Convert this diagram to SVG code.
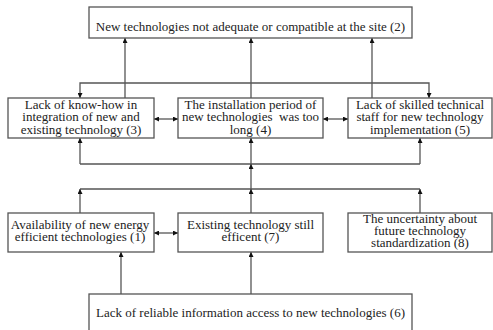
<svg xmlns="http://www.w3.org/2000/svg" width="493" height="330" viewBox="0 0 493 330">
<defs>
<marker id="ah" viewBox="0 0 10 10" refX="10" refY="5" markerWidth="5" markerHeight="5" markerUnits="userSpaceOnUse" orient="auto-start-reverse">
<path d="M0,0 L10,5 L0,10 z" fill="#111"/>
</marker>
<style>
.box{fill:#fff;stroke:#555;stroke-width:1.3}
.t{font-family:"Liberation Serif","Times New Roman",serif;font-size:13px;fill:#222;text-anchor:middle}
.c{fill:none;stroke:#555;stroke-width:1.3}
.a{marker-end:url(#ah)}
.b{marker-start:url(#ah);marker-end:url(#ah)}
</style>
</defs>
<rect width="493" height="330" fill="#fff"/>
<g id="connectors">
<line class="c a" x1="125" y1="98" x2="125" y2="38"/>
<line class="c a" x1="251" y1="98" x2="251" y2="38"/>
<line class="c a" x1="372" y1="98" x2="372" y2="38"/>
<polyline class="c b" points="80,98 80,83 429,83 429,98"/>
<line class="c b" x1="154" y1="119" x2="178" y2="119"/>
<line class="c b" x1="323" y1="119" x2="348" y2="119"/>
<line class="c" x1="80" y1="164" x2="420" y2="164"/>
<line class="c a" x1="80" y1="164" x2="80" y2="138"/>
<line class="c a" x1="251" y1="164" x2="251" y2="138"/>
<line class="c a" x1="420" y1="164" x2="420" y2="138"/>
<line class="c a" x1="251" y1="189" x2="251" y2="164"/>
<line class="c" x1="80" y1="189" x2="420" y2="189"/>
<line class="c a" x1="80" y1="213" x2="80" y2="189"/>
<line class="c a" x1="251" y1="213" x2="251" y2="189"/>
<line class="c a" x1="420" y1="213" x2="420" y2="189"/>
<line class="c b" x1="154" y1="233" x2="178" y2="233"/>
<line class="c a" x1="121" y1="294" x2="121" y2="252"/>
<line class="c a" x1="251" y1="294" x2="251" y2="252"/>
</g>
<g id="n2">
<rect class="box" x="89" y="7" width="323" height="31"/>
<text class="t" x="250.5" y="31">New technologies not adequate or compatible at the site (2)</text>
</g>
<g id="n3">
<rect class="box" x="8" y="98" width="146" height="40"/>
<text class="t" x="81" y="109">Lack of know-how in</text>
<text class="t" x="81" y="121">integration of new and</text>
<text class="t" x="81" y="134">existing technology (3)</text>
</g>
<g id="n4">
<rect class="box" x="178" y="98" width="145" height="40"/>
<text class="t" x="250.5" y="109">The installation period of</text>
<text class="t" x="250.5" y="121" xml:space="preserve">new technologies  was too</text>
<text class="t" x="250.5" y="134">long (4)</text>
</g>
<g id="n5">
<rect class="box" x="348" y="98" width="144" height="40"/>
<text class="t" x="420" y="109">Lack of skilled technical</text>
<text class="t" x="420" y="121">staff for new technology</text>
<text class="t" x="420" y="134">implementation (5)</text>
</g>
<g id="n1">
<rect class="box" x="8" y="213" width="146" height="39"/>
<text class="t" x="80" y="229">Availability of new energy</text>
<text class="t" x="80" y="241">efficient technologies (1)</text>
</g>
<g id="n7">
<rect class="box" x="178" y="213" width="145" height="39"/>
<text class="t" x="250.5" y="229">Existing technology still</text>
<text class="t" x="250.5" y="241">efficent (7)</text>
</g>
<g id="n8">
<rect class="box" x="348" y="213" width="144" height="39"/>
<text class="t" x="420" y="223">The uncertainty about</text>
<text class="t" x="420" y="235">future technology</text>
<text class="t" x="420" y="247">standardization (8)</text>
</g>
<g id="n6">
<rect class="box" x="89" y="294" width="323" height="45"/>
<text class="t" x="250.5" y="317">Lack of reliable information access to new technologies (6)</text>
</g>
</svg>
